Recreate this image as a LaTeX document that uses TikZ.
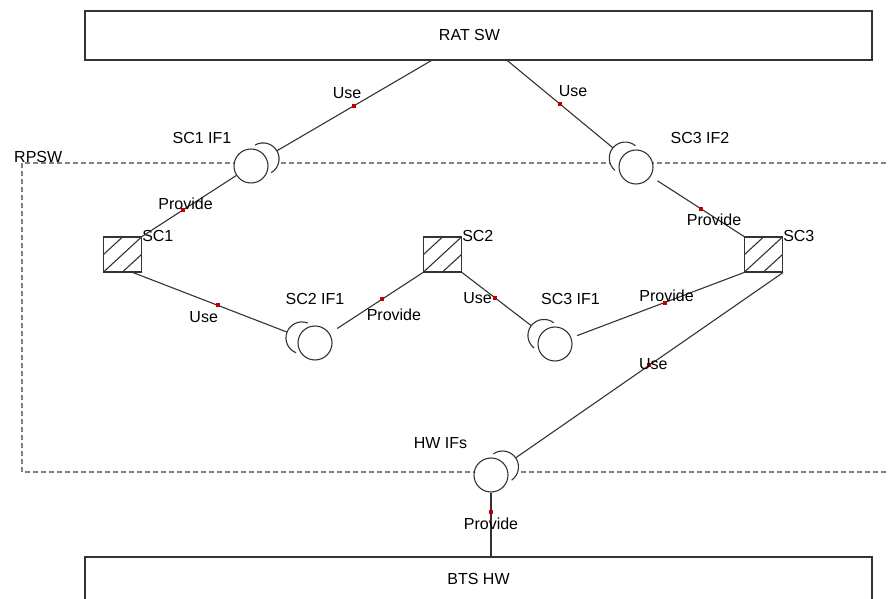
\documentclass[tikz,border=0pt]{standalone}
\usepackage{fontspec}
\setmainfont{Liberation Sans}
\usetikzlibrary{calc,backgrounds}
\definecolor{linegray}{HTML}{333333}
\definecolor{dashgray}{HTML}{808080}
\definecolor{dotred}{HTML}{C00000}

% socket arc in front of an interface ball, opening toward angle #2
\newcommand{\socket}[2]{%
  \begin{scope}[on background layer]
    \fill[white] ($(#1)+(#2:14)$) circle (16);
  \end{scope}
  \draw[conn] ($(#1)+(#2:14)+(#2+90:16)$) arc[start angle=#2+90, end angle=#2-90, radius=16];
  \coordinate (#1-s) at ($(#1)+(#2:30)$);}

\begin{document}
\begin{tikzpicture}[x=1pt,y=1pt,
  font=\fontsize{16}{19}\selectfont,
  conn/.style={linegray, line width=1.1pt},
  box/.style={draw=linegray, line width=1.1pt, minimum width=787, minimum height=49, inner sep=0},
  ball/.style={circle, draw=linegray, fill=white, line width=1.1pt, minimum size=34, inner sep=0},
  comp/.style={draw=linegray, line width=1.1pt, minimum width=38, minimum height=35, inner sep=0,
    path picture={\draw[linegray, line width=1.1pt]
      (path picture bounding box.west) -- (path picture bounding box.north)
      (path picture bounding box.south west) -- (path picture bounding box.north east)
      (path picture bounding box.south) -- (path picture bounding box.east);}},
  dot/.style={fill=dotred, minimum size=4, inner sep=0},
  lbl/.style={inner sep=0, text=black}]
  \useasboundingbox (0,0) rectangle (888,599);
  \clip (0,0) rectangle (888,599);

  \node[box] (rat) at (478.5,563.5) {};
  \node[lbl] (rat-l) at ($(rat)+(-9,0)$) {RAT SW};
  \node[box] (bts) at (478.5,17.5) {};
  \node[lbl] (bts-l) at ($(bts)+(0,3)$) {BTS HW};

  % RPSW boundary
  \begin{scope}[on background layer]
    \draw[dashgray, line width=1.3pt, dash pattern=on 5pt off 3pt] (22,127) rectangle (905,436);
  \end{scope}
  \node[lbl, anchor=west] (rpsw) at (14,442) {RPSW};

  % interfaces
  \foreach \n/\x/\y/\dx/\dy/\t in {if1/251/433/-49/28/SC1 IF1, if2/636/432/64/29/SC3 IF2,
      if3/315/256/0/44/SC2 IF1, if4/555/255/15.5/45/SC3 IF1, hwif/491/124/-50.5/32/HW IFs}{
    \node[ball] (\n) at (\x,\y) {};
    \node[lbl] (\n-l) at ($(\n)+(\dx,\dy)$) {\t};
  }
  \socket{if1}{30.4}
  \socket{if2}{140.3}
  \socket{if3}{158.7}
  \socket{if4}{142.3}
  \socket{hwif}{34.8}

  % components
  \foreach \n/\x/\t in {sc1/122.5/SC1, sc2/442.5/SC2, sc3/763.5/SC3}{
    \node[comp] (\n) at (\x,344.5) {};
    \node[lbl, anchor=west] (\n-l) at (\n.north east) {\t};
  }

  \draw[conn] (rat.-152) -- node[dot]{} node[lbl, xshift=-7, yshift=13]{Use} (if1-s);
  \draw[conn] (rat.-41) -- node[dot]{} node[lbl, xshift=13, yshift=13]{Use} (if2-s);
  \draw[conn] (if1) -- node[dot, pos=.57]{} node[lbl, pos=.57, xshift=3, yshift=6]{Provide} (sc1.north east);
  \draw[conn, shorten <=8pt] (if2) -- node[dot, pos=.54]{} node[lbl, pos=.54, xshift=13, yshift=-11]{Provide} (sc3.north west);
  \draw[conn] (sc1.-60) -- node[dot, pos=.55]{} node[lbl, pos=.55, xshift=-14, yshift=-12]{Use} (if3-s);
  \draw[conn, shorten <=9pt] (if3) -- node[dot, pos=.56]{} node[lbl, pos=.56, xshift=12, yshift=-15]{Provide} (sc2.south west);
  \draw[conn] (sc2.south east) -- node[dot, pos=.47]{} node[lbl, pos=.47, xshift=-17, yshift=-1]{Use} (if4-s);
  \draw[conn, shorten <=6pt] (if4) -- node[dot, pos=.54]{} node[lbl, pos=.54, xshift=2, yshift=7]{Provide} (sc3.south west);
  \draw[conn] (sc3.south east) -- node[dot]{} node[lbl, xshift=4, yshift=1]{Use} (hwif-s);
  \draw[conn] (hwif) -- node[dot, pos=.31]{} node[lbl, pos=.31, yshift=-11]{Provide} (hwif |- bts.north);
\end{tikzpicture}
\end{document}
